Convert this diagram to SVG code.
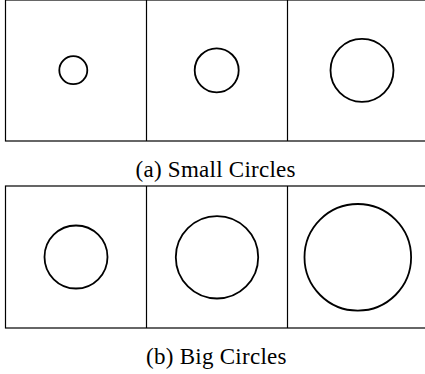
<svg xmlns="http://www.w3.org/2000/svg" width="425" height="374" viewBox="0 0 425 374">
<style>
.frame{fill:none;stroke:#000;stroke-width:1.2}
.c{fill:none;stroke:#000;stroke-width:1.8}
.cap{font-family:"Liberation Serif","Times New Roman",serif;font-size:23px;fill:#000;text-anchor:start}
</style>
<rect width="425" height="374" fill="#fff"/>
<g id="panel-a">
<rect class="frame" x="5.5" y="0" width="423" height="141"/>
<line class="frame" x1="146.5" y1="0" x2="146.5" y2="141"/>
<line class="frame" x1="287.5" y1="0" x2="287.5" y2="141"/>
<g id="a1"><circle class="c" cx="73.3" cy="70.2" r="14"/></g>
<g id="a2"><circle class="c" cx="216.7" cy="70.3" r="22"/></g>
<g id="a3"><circle class="c" cx="362" cy="70.3" r="31.5"/></g>
<text class="cap" x="135.5" y="176.5" textLength="160" lengthAdjust="spacing">(a) Small Circles</text>
</g>
<g id="panel-b">
<rect class="frame" x="5.5" y="186" width="423" height="142"/>
<line class="frame" x1="146.5" y1="186" x2="146.5" y2="328"/>
<line class="frame" x1="287.5" y1="186" x2="287.5" y2="328"/>
<g id="b1"><circle class="c" cx="76" cy="257" r="31.5"/></g>
<g id="b2"><circle class="c" cx="217" cy="257.3" r="41.2"/></g>
<g id="b3"><circle class="c" cx="357.8" cy="257.3" r="53.3"/></g>
<text class="cap" x="146" y="363.5" textLength="140.5" lengthAdjust="spacing">(b) Big Circles</text>
</g>
<g id="connectors"/>
</svg>
